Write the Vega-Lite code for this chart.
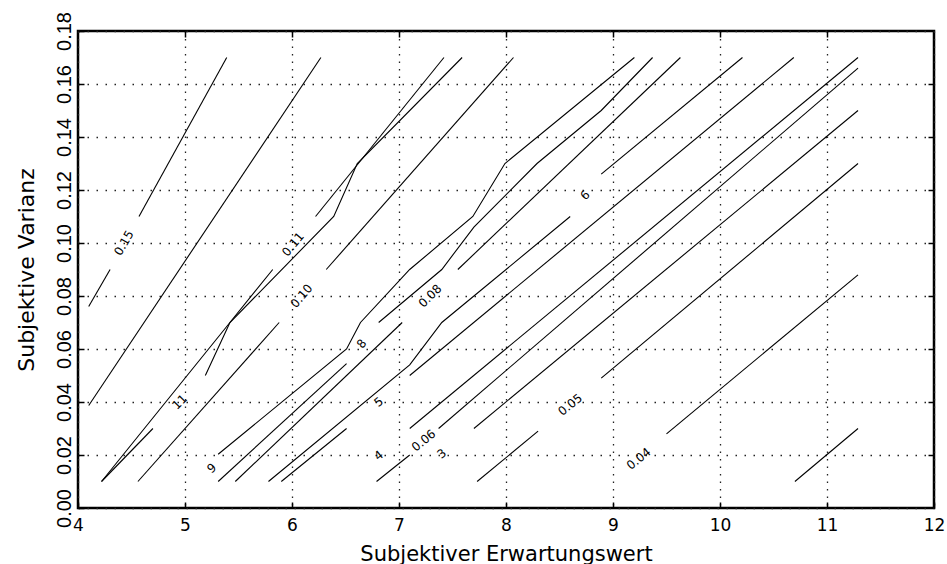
{
  "$schema": "https://vega.github.io/schema/vega-lite/v6.json",
  "width": 856,
  "height": 477,
  "autosize": {"type": "none"},
  "padding": {"left": 78, "top": 31, "right": 13, "bottom": 56},
  "background": "white",
  "config": {
    "view": {"stroke": "black", "strokeWidth": 2.5},
    "font": "DejaVu Sans"
  },
  "datasets": {
    "contours": [
      {"c": "c01", "x": 4.10, "y": 0.076}, {"c": "c01", "x": 4.30, "y": 0.090},
      {"c": "c02", "x": 4.57, "y": 0.110}, {"c": "c02", "x": 5.39, "y": 0.170},
      {"c": "c03", "x": 4.10, "y": 0.0387}, {"c": "c03", "x": 6.27, "y": 0.170},
      {"c": "c04", "x": 4.22, "y": 0.010}, {"c": "c04", "x": 4.70, "y": 0.030},
      {"c": "c05", "x": 5.19, "y": 0.050}, {"c": "c05", "x": 5.42, "y": 0.070}, {"c": "c05", "x": 5.82, "y": 0.090},
      {"c": "c06", "x": 6.22, "y": 0.110}, {"c": "c06", "x": 7.42, "y": 0.170},
      {"c": "c07", "x": 4.22, "y": 0.010}, {"c": "c07", "x": 5.42, "y": 0.070}, {"c": "c07", "x": 6.39, "y": 0.110}, {"c": "c07", "x": 6.61, "y": 0.130}, {"c": "c07", "x": 7.59, "y": 0.170},
      {"c": "c08", "x": 4.56, "y": 0.010}, {"c": "c08", "x": 5.88, "y": 0.070},
      {"c": "c09", "x": 6.32, "y": 0.090}, {"c": "c09", "x": 8.07, "y": 0.170},
      {"c": "c10", "x": 5.31, "y": 0.0203}, {"c": "c10", "x": 6.51, "y": 0.060}, {"c": "c10", "x": 6.64, "y": 0.070}, {"c": "c10", "x": 7.10, "y": 0.090}, {"c": "c10", "x": 7.69, "y": 0.110}, {"c": "c10", "x": 7.99, "y": 0.130}, {"c": "c10", "x": 9.20, "y": 0.170},
      {"c": "c11", "x": 5.31, "y": 0.010}, {"c": "c11", "x": 6.51, "y": 0.0545},
      {"c": "c12", "x": 6.81, "y": 0.070}, {"c": "c12", "x": 7.40, "y": 0.090}, {"c": "c12", "x": 7.70, "y": 0.106}, {"c": "c12", "x": 8.29, "y": 0.130}, {"c": "c12", "x": 8.89, "y": 0.150}, {"c": "c12", "x": 9.37, "y": 0.170},
      {"c": "c13", "x": 5.47, "y": 0.010}, {"c": "c13", "x": 7.03, "y": 0.070},
      {"c": "c14", "x": 7.55, "y": 0.090}, {"c": "c14", "x": 9.63, "y": 0.170},
      {"c": "c15", "x": 5.78, "y": 0.010}, {"c": "c15", "x": 7.10, "y": 0.054}, {"c": "c15", "x": 7.40, "y": 0.070}, {"c": "c15", "x": 8.60, "y": 0.110},
      {"c": "c16", "x": 8.89, "y": 0.126}, {"c": "c16", "x": 10.21, "y": 0.170},
      {"c": "c17", "x": 5.90, "y": 0.010}, {"c": "c17", "x": 6.51, "y": 0.030},
      {"c": "c18", "x": 7.10, "y": 0.050}, {"c": "c18", "x": 10.69, "y": 0.170},
      {"c": "c19", "x": 7.10, "y": 0.030}, {"c": "c19", "x": 11.29, "y": 0.170},
      {"c": "c20", "x": 6.79, "y": 0.010}, {"c": "c20", "x": 7.10, "y": 0.020},
      {"c": "c21", "x": 7.37, "y": 0.030}, {"c": "c21", "x": 11.29, "y": 0.166},
      {"c": "c22", "x": 7.70, "y": 0.030}, {"c": "c22", "x": 11.29, "y": 0.150},
      {"c": "c23", "x": 7.73, "y": 0.010}, {"c": "c23", "x": 8.30, "y": 0.029},
      {"c": "c24", "x": 8.89, "y": 0.049}, {"c": "c24", "x": 11.29, "y": 0.130},
      {"c": "c25", "x": 9.50, "y": 0.028}, {"c": "c25", "x": 11.29, "y": 0.088},
      {"c": "c26", "x": 10.70, "y": 0.010}, {"c": "c26", "x": 11.29, "y": 0.030}
    ],
    "labels": [
      {"t": "0.15", "x": 4.43, "y": 0.100},
      {"t": "11", "x": 4.95, "y": 0.040},
      {"t": "0.11", "x": 6.01, "y": 0.0995},
      {"t": "0.10", "x": 6.09, "y": 0.080},
      {"t": "8", "x": 6.65, "y": 0.062},
      {"t": "9", "x": 5.25, "y": 0.015},
      {"t": "5", "x": 6.81, "y": 0.040},
      {"t": "4", "x": 6.81, "y": 0.0198},
      {"t": "0.08", "x": 7.29, "y": 0.080},
      {"t": "0.06", "x": 7.23, "y": 0.0255},
      {"t": "3", "x": 7.40, "y": 0.0205},
      {"t": "0.05", "x": 8.60, "y": 0.039},
      {"t": "6", "x": 8.74, "y": 0.118},
      {"t": "0.04", "x": 9.24, "y": 0.0186}
    ]
  },
  "resolve": {"axis": {"x": "independent", "y": "independent"}},
  "layer": [
    {
      "data": {"name": "contours"},
      "mark": {"type": "line", "color": "black", "strokeWidth": 1.1},
      "encoding": {
        "x": {
          "field": "x", "type": "quantitative",
          "scale": {"domain": [4, 12], "nice": false, "zero": false},
          "axis": {
            "orient": "bottom", "values": [4, 5, 6, 7, 8, 9, 10, 11, 12], "format": "d",
            "labelFont": "DejaVu Sans", "labelFontSize": 17, "labelColor": "black",
            "labelPadding": 15, "labelFlush": false, "labelOverlap": false,
            "tickSize": -6, "tickColor": "black", "tickWidth": 1.5,
            "domain": false,
            "grid": true, "gridDash": [1.5, 6], "gridColor": "#222", "gridWidth": 1.3,
            "title": "Subjektiver Erwartungswert",
            "titleFont": "DejaVu Sans", "titleFontSize": 21, "titleFontWeight": "normal",
            "titleColor": "black", "titlePadding": 10
          }
        },
        "y": {
          "field": "y", "type": "quantitative",
          "scale": {"domain": [0, 0.18], "nice": false, "zero": false},
          "axis": {
            "orient": "left", "values": [0, 0.02, 0.04, 0.06, 0.08, 0.1, 0.12, 0.14, 0.16, 0.18],
            "format": ".2f",
            "labelFont": "Liberation Sans", "labelFontSize": 20, "labelColor": "black",
            "labelAngle": 270, "labelAlign": "center", "labelBaseline": "alphabetic",
            "labelPadding": 14, "labelFlush": false, "labelOverlap": false,
            "tickSize": -6, "tickColor": "black", "tickWidth": 1.5,
            "domain": false,
            "grid": true, "gridDash": [1.5, 7.5], "gridColor": "#222", "gridWidth": 1.3,
            "title": "Subjektive Varianz",
            "titleFont": "DejaVu Sans", "titleFontSize": 22, "titleFontWeight": "normal",
            "titleColor": "black", "titlePadding": 16
          }
        },
        "detail": {"field": "c"}
      }
    },
    {
      "data": {"name": "labels"},
      "transform": [{"filter": {"field": "t", "oneOf": ["0.15"]}}],
      "mark": {"type": "text", "font": "DejaVu Sans", "fontSize": 12, "color": "black", "angle": 300, "align": "center", "baseline": "middle"},
      "encoding": {
        "x": {
          "field": "x", "type": "quantitative",
          "axis": {"orient": "top", "values": [5, 6, 7, 8, 9, 10, 11], "labels": false, "grid": false, "domain": false, "title": null, "tickSize": -6, "tickColor": "black", "tickWidth": 1.5}
        },
        "y": {
          "field": "y", "type": "quantitative",
          "axis": {"orient": "right", "values": [0.02, 0.04, 0.06, 0.08, 0.1, 0.12, 0.14, 0.16], "labels": false, "grid": false, "domain": false, "title": null, "tickSize": -6, "tickColor": "black", "tickWidth": 1.5}
        },
        "text": {"field": "t"}
      }
    },
    {
      "data": {"name": "labels"},
      "transform": [{"filter": {"field": "t", "oneOf": ["0.11", "8", "0.10"]}}],
      "mark": {"type": "text", "font": "DejaVu Sans", "fontSize": 12, "color": "black", "angle": 310, "align": "center", "baseline": "middle"},
      "encoding": {
        "x": {"field": "x", "type": "quantitative", "axis": null},
        "y": {"field": "y", "type": "quantitative", "axis": null},
        "text": {"field": "t"}
      }
    },
    {
      "data": {"name": "labels"},
      "transform": [{"filter": {"field": "t", "oneOf": ["11", "0.08", "6"]}}],
      "mark": {"type": "text", "font": "DejaVu Sans", "fontSize": 12, "color": "black", "angle": 315, "align": "center", "baseline": "middle"},
      "encoding": {
        "x": {"field": "x", "type": "quantitative", "axis": null},
        "y": {"field": "y", "type": "quantitative", "axis": null},
        "text": {"field": "t"}
      }
    },
    {
      "data": {"name": "labels"},
      "transform": [{"filter": {"field": "t", "oneOf": ["9", "5", "4", "0.06", "3", "0.05", "0.04"]}}],
      "mark": {"type": "text", "font": "DejaVu Sans", "fontSize": 12, "color": "black", "angle": 321, "align": "center", "baseline": "middle"},
      "encoding": {
        "x": {"field": "x", "type": "quantitative", "axis": null},
        "y": {"field": "y", "type": "quantitative", "axis": null},
        "text": {"field": "t"}
      }
    }
  ]
}
